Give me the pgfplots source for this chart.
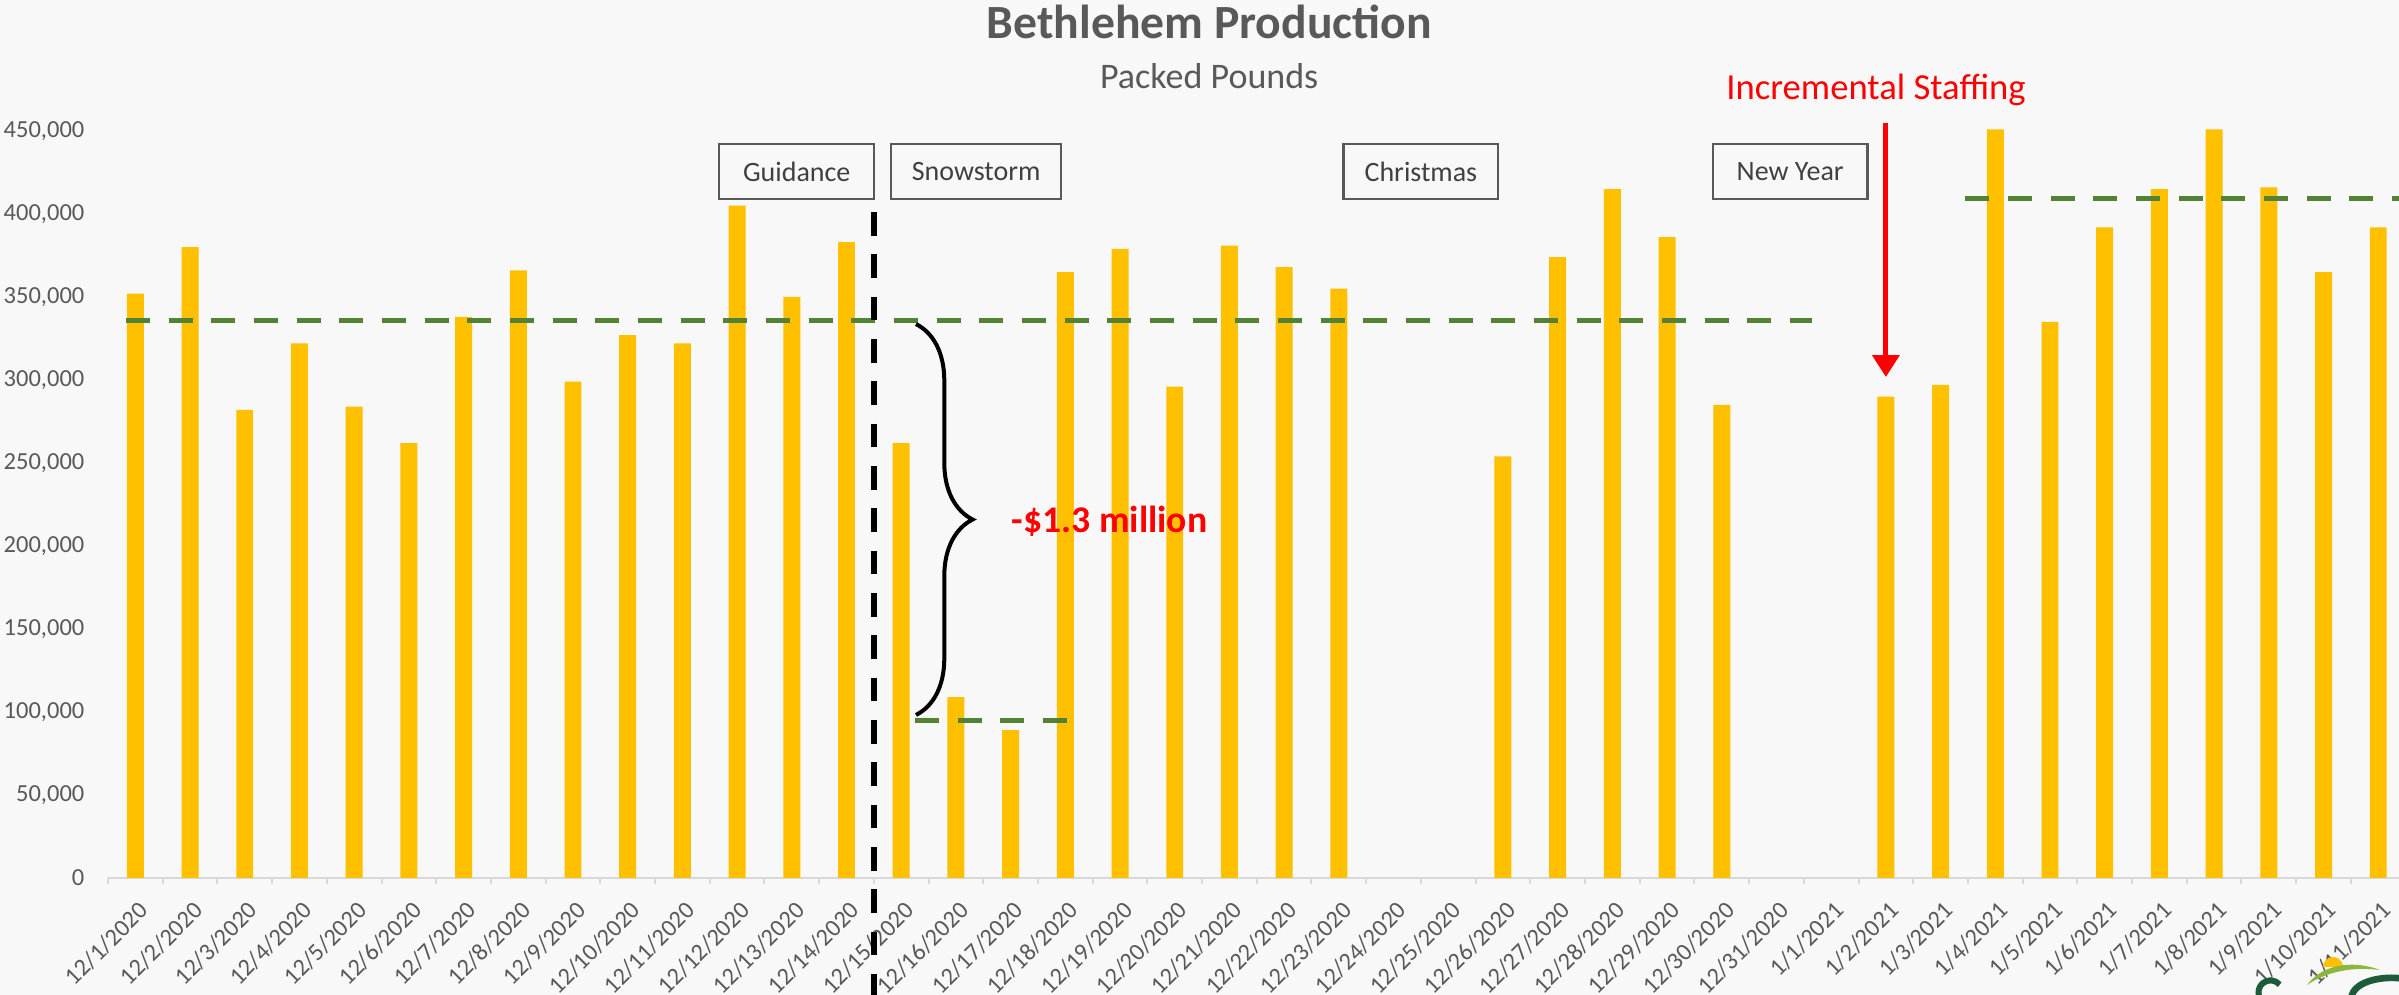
\documentclass[border=0pt]{standalone}
\usepackage{fontspec}
\setmainfont{Carlito}
\usepackage{pgfplots}
\usepackage{pgfplotstable}
\pgfplotsset{compat=1.18}
\usetikzlibrary{arrows.meta,decorations.pathreplacing}

\definecolor{barGold}{HTML}{FFC000}
\definecolor{targetGreen}{HTML}{548235}
\definecolor{labelGray}{HTML}{595959}
\definecolor{boxText}{HTML}{404040}
\definecolor{axisGray}{HTML}{D9D9D9}
\definecolor{paper}{HTML}{F8F8F8}
\definecolor{logoLeaf}{HTML}{8DB63C}
\definecolor{logoDark}{HTML}{1D5B3A}

% Packed pounds per day (index 0 = 12/1/2020); holidays with no production are omitted
\pgfplotstableread{
idx value
0  352000
1  380000
2  282000
3  322000
4  284000
5  262000
6  338000
7  366000
8  299000
9  327000
10 322000
11 405000
12 350000
13 383000
14 262000
15 109000
16 89000
17 365000
18 379000
19 296000
20 381000
21 368000
22 355000
25 254000
26 374000
27 415000
28 386000
29 285000
32 290000
33 297000
34 451000
35 335000
36 392000
37 415000
38 451000
39 416000
40 365000
41 392000
}\packed

\begin{document}
\begin{tikzpicture}
\useasboundingbox (-32.4pt,-35.1pt) rectangle (687.3pt,263.4pt);
\fill[paper] (-32.4pt,-35.1pt) rectangle (687.3pt,263.4pt);
\begin{axis}[
  at={(0pt,0pt)}, anchor=south west,
  scale only axis, width=687.3pt, height=224.1pt,
  xmin=-0.5, xmax=41.38, ymin=0, ymax=450000,
  clip=false,
  axis lines*=left,
  x axis line style={-, draw=axisGray, line width=0.75pt},
  y axis line style={draw=none},
  ybar, bar width=0.31,
  xtick={0,...,41},
  xticklabels={12/1/2020,12/2/2020,12/3/2020,12/4/2020,12/5/2020,12/6/2020,12/7/2020,12/8/2020,12/9/2020,12/10/2020,12/11/2020,12/12/2020,12/13/2020,12/14/2020,12/15/2020,12/16/2020,12/17/2020,12/18/2020,12/19/2020,12/20/2020,12/21/2020,12/22/2020,12/23/2020,12/24/2020,12/25/2020,12/26/2020,12/27/2020,12/28/2020,12/29/2020,12/30/2020,12/31/2020,1/1/2021,1/2/2021,1/3/2021,1/4/2021,1/5/2021,1/6/2021,1/7/2021,1/8/2021,1/9/2021,1/10/2021,1/11/2021},
  major tick length=0pt,
  major x tick style={draw=none},
  minor xtick={-0.5,0.5,...,40.5},
  minor x tick style={draw=axisGray, line width=0.6pt},
  minor tick length=1.8pt,
  tick align=outside,
  ytick={0,50000,...,450000},
  ytick style={draw=none},
  scaled y ticks=false,
  /pgf/number format/assume math mode=true,
  /pgf/number format/fixed,
  /pgf/number format/precision=0,
  /pgf/number format/1000 sep={,},
  yticklabel style={anchor=east, inner sep=0pt, xshift=-6.9pt,
    font=\fontsize{7.35}{8.5}\selectfont, text=labelGray},
  xticklabel style={xshift=0.6pt, yshift=-6.4pt, rotate=45, anchor=north east, inner sep=0pt,
    font=\fontsize{7.3}{8.5}\selectfont, text=labelGray},
]
\addplot[fill=barGold, draw=none] table[x=idx, y=value] {\packed};

% run-rate targets
\draw[targetGreen, line width=1.6pt, dash pattern=on 7.2pt off 5.6pt]
  (axis cs:-0.17,336000) -- (axis cs:30.65,336000);
\draw[targetGreen, line width=1.6pt, dash pattern=on 7.2pt off 5.6pt]
  (axis cs:33.45,409400) -- (axis cs:41.38,409400);
\draw[targetGreen, line width=1.6pt, dash pattern=on 7.2pt off 5.6pt]
  (axis cs:14.25,94900) -- (axis cs:17.03,94900);

% snowstorm divider
\draw[black, line width=1.7pt, dash pattern=on 7.1pt off 5.6pt]
  (axis cs:13.5,401200) -- (axis cs:13.5,-70500);

% lost volume
\draw[black, line width=1.2pt, decorate, decoration={brace, amplitude=17pt}]
  (axis cs:14.27,333700) -- (axis cs:14.27,98200);
\node[anchor=base west, inner sep=0pt, text=red, font=\fontsize{11.3}{13}\selectfont\bfseries]
  at (axis cs:16.01,208400) {-\$1.3 million};

% event labels
\tikzset{event/.style={draw=labelGray, line width=0.7pt, minimum height=16.5pt, inner sep=0pt,
  text=boxText, font=\fontsize{8.4}{10}\selectfont}}
\node[event, minimum width=46.5pt] at (axis cs:12.09,425600) {Guidance};
\node[event, minimum width=51pt]   at (axis cs:15.37,425600) {Snowstorm};
\node[event, minimum width=46.4pt] at (axis cs:23.5,425600)  {Christmas};
\node[event, minimum width=46.4pt] at (axis cs:30.25,425600) {New Year};

% staffing change
\node[anchor=base, inner sep=0pt, text=red, font=\fontsize{11}{13}\selectfont]
  at (axis cs:31.82,468700) {Incremental Staffing};
\draw[red, line width=1.5pt, -{Triangle[width=8pt,length=6.6pt]}]
  (axis cs:32,454800) -- (axis cs:32,301800);

% titles
\node[anchor=base, inner sep=0pt, text=labelGray, font=\fontsize{14.3}{16}\selectfont\bfseries]
  at (axis cs:19.63,506000) {Bethlehem Production};
\node[anchor=base, inner sep=0pt, text=labelGray, font=\fontsize{10.8}{13}\selectfont]
  at (axis cs:19.63,475900) {Packed Pounds};
\end{axis}

% corner logo
\fill[barGold] (664.5pt,-26.7pt) arc (180:0:3pt) -- cycle;
\fill[logoLeaf] (659.7pt,-32.1pt) .. controls (665pt,-25pt) and (675pt,-25pt) .. (681.6pt,-27.6pt)
  .. controls (674pt,-26.6pt) and (666pt,-27.8pt) .. cycle;
\draw[logoDark, line width=1.8pt] (651.5pt,-32pt) arc (40:200:3.6pt);
\draw[logoDark, line width=2pt] (673pt,-36pt) .. controls (673.5pt,-30.5pt) and (684pt,-29pt) .. (690pt,-30.5pt);
\end{tikzpicture}
\end{document}
